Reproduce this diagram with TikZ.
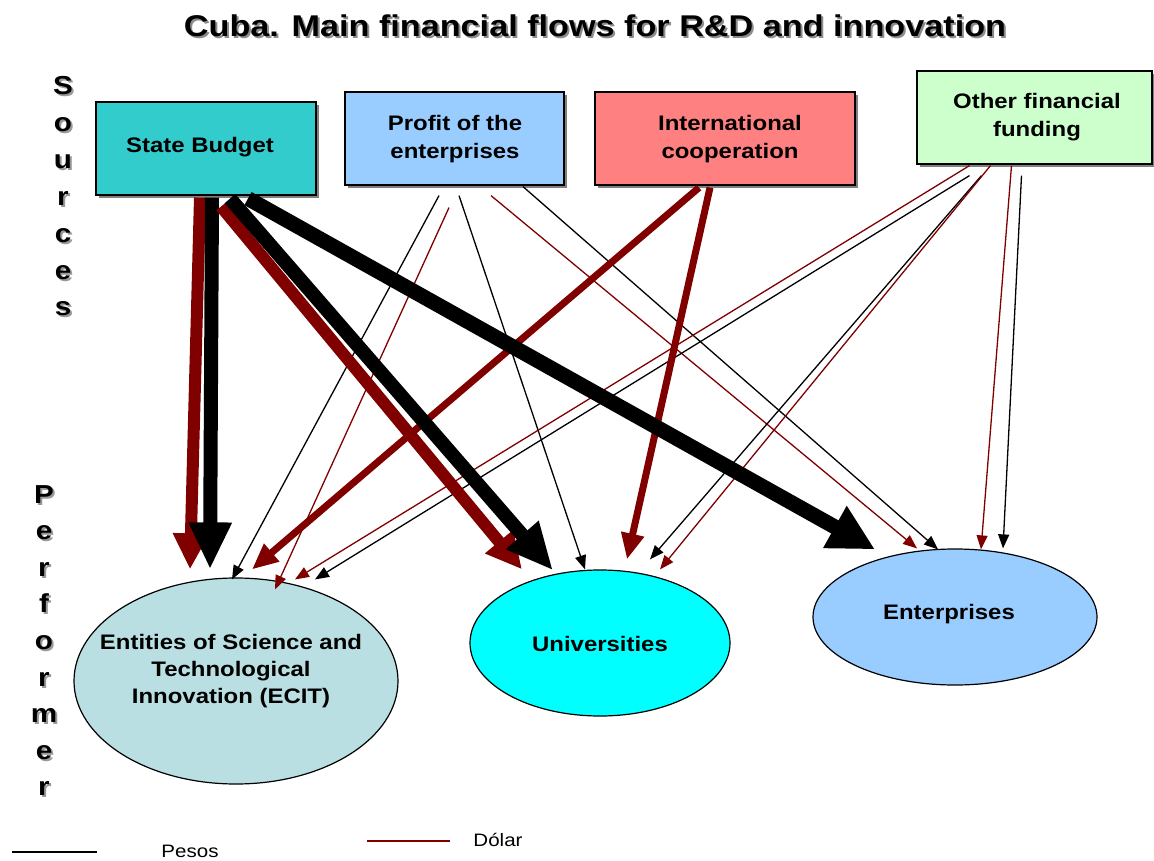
\documentclass[tikz,border=0pt]{standalone}
\usepackage{fontspec}
\setmainfont{Liberation Sans}
\usetikzlibrary{arrows.meta,shapes.geometric,shadows}
\definecolor{dred}{HTML}{800000}
\definecolor{sbcol}{HTML}{33CCCC}
\definecolor{pecol}{HTML}{99CCFF}
\definecolor{iccol}{HTML}{FF8080}
\definecolor{ofcol}{HTML}{CCFFCC}
\definecolor{eccol}{HTML}{B9DFE2}
\definecolor{uncol}{HTML}{00FFFF}
\definecolor{encol}{HTML}{99CCFF}
\newcommand{\hstretch}[1]{\scalebox{1.14}[1]{#1}}
\newcommand{\twolines}[2]{\hstretch{\begin{tabular}{@{}c@{}}#1\\#2\end{tabular}}}
\tikzset{
  srcbox/.style={draw=black, line width=1.2pt, minimum height=93pt, inner sep=0pt,
    drop shadow={shadow xshift=3pt, shadow yshift=-3pt, fill=black!50, opacity=1}},
  perf/.style={ellipse, draw=black, line width=1.2pt, inner sep=0pt},
  boxtext/.style={font=\fontsize{21}{28}\selectfont\bfseries, inner sep=0pt, align=center},
  vlet/.style={font=\fontsize{26}{26}\selectfont\bfseries, anchor=base, inner sep=0pt},
  vshadow/.style={vlet, text=black!40},
  bigblack/.style={line width=14pt, -{Triangle[length=47pt,width=40pt]}},
  bigred/.style={line width=12pt, draw=dred, -{Triangle[length=36pt,width=34pt]}},
  midred/.style={line width=7pt, draw=dred, -{Triangle[length=26pt,width=22pt]}},
  pesos/.style={line width=1.3pt, draw=black, -{Triangle[length=14pt,width=11pt]}},
  dolar/.style={line width=1.3pt, draw=dred, -{Triangle[length=14pt,width=11pt]}},
  legtext/.style={font=\fontsize{18}{18}\selectfont, inner sep=0pt}
}
\begin{document}
\begin{tikzpicture}[x=1pt,y=-1pt]
\useasboundingbox[fill=white] (0,0) rectangle (1154,861);

% title
\node[font=\fontsize{30}{30}\selectfont\bfseries, text=black!45, inner sep=0pt] (titleshadow) at (597,28) {\hstretch{Cuba. Main financial flows for R\&D and innovation}};
\node[font=\fontsize{30}{30}\selectfont\bfseries, inner sep=0pt] (title) at (595,26) {\hstretch{Cuba. Main financial flows for R\&D and innovation}};

% side labels
\foreach \l [count=\i from 0] in {S,o,u,r,c,e,s} {
  \node[vshadow] (sls\i) at (65,{97+36.8*\i}) {\hstretch{\l}};
  \node[vlet] (sl\i) at (63,{95+36.8*\i}) {\hstretch{\l}};
}
\foreach \l [count=\i from 0] in {P,e,r,f,o,r,m,e,r} {
  \node[vshadow] (pls\i) at (46,{505+36.6*\i}) {\hstretch{\l}};
  \node[vlet] (pl\i) at (44,{503+36.6*\i}) {\hstretch{\l}};
}

% source boxes
\node[srcbox, fill=sbcol, minimum width=220pt] (sb) at (206,148.5) {};
\node[boxtext] (sbt) at (200,147) {\hstretch{State Budget}};
\node[srcbox, fill=pecol, minimum width=219pt] (pe) at (454.5,138.5) {};
\node[boxtext] (pet) at (455,139) {\twolines{Profit of the}{enterprises}};
\node[srcbox, fill=iccol, minimum width=260pt] (ic) at (725,138.5) {};
\node[boxtext] (ict) at (730,139) {\twolines{International}{cooperation}};
\node[srcbox, fill=ofcol, minimum width=235pt] (of) at (1034.5,117.5) {};
\node[boxtext] (oft) at (1037,117) {\twolines{Other financial}{funding}};

% performers
\node[perf, fill=eccol, minimum width=324pt, minimum height=206pt] (ecit) at (236,681) {};
\node[boxtext] (ecitt) at (231,671) {\hstretch{\begin{tabular}{@{}c@{}}Entities of Science and\\[-1pt]Technological\\[-1pt]Innovation (ECIT)\end{tabular}}};
\node[perf, fill=uncol, minimum width=260pt, minimum height=146pt] (univ) at (600,643) {};
\node[boxtext] (univt) at (600,644) {\hstretch{Universities}};
\node[perf, fill=encol, minimum width=284pt, minimum height=136pt] (ent) at (955,617) {};
\node[boxtext] (entt) at (949,614) {\hstretch{Enterprises}};

% flows from Profit of the enterprises
\draw[pesos] ([xshift=-15.5pt,yshift=-10pt]pe.south) -- ([xshift=-4pt,yshift=-2pt]ecit.north);
\draw[dolar] ([xshift=-5.5pt,yshift=-22pt]pe.south) -- ([xshift=39pt,yshift=-12pt]ecit.north);
\draw[pesos] ([xshift=4.5pt,yshift=-10pt]pe.south) -- ([xshift=-15pt]univ.north);
\draw[dolar] ([xshift=36.5pt,yshift=-10pt]pe.south) -- ([xshift=-38pt]ent.north);
\draw[pesos] ([xshift=68.5pt,yshift=-1pt]pe.south) -- ([xshift=-17pt,yshift=-1pt]ent.north);

% flows from Other financial funding
\draw[dolar] ([xshift=-65pt,yshift=-1pt]of.south) -- ([xshift=59pt,yshift=-2pt]ecit.north);
\draw[pesos] ([xshift=-65pt,yshift=-11pt]of.south) -- ([xshift=79pt,yshift=-2pt]ecit.north);
\draw[pesos] ([xshift=-53pt,yshift=-11pt]of.south) -- ([xshift=50pt,yshift=10pt]univ.north);
\draw[dolar] ([xshift=-44pt,yshift=-1pt]of.south) -- ([xshift=60pt]univ.north);
\draw[dolar] ([xshift=-23pt,yshift=-1pt]of.south) -- ([xshift=26pt,yshift=-1pt]ent.north);
\draw[pesos] ([xshift=-13pt,yshift=-11pt]of.south) -- ([xshift=48pt]ent.north);

% flows from International cooperation
\draw[midred] ([xshift=-26pt,yshift=-2pt]ic.south) -- ([xshift=16pt,yshift=8pt]ecit.north);
\draw[midred] ([xshift=-15pt,yshift=-2pt]ic.south) -- ([xshift=27pt,yshift=10pt]univ.north);

% flows from State Budget
\draw[bigred] ([xshift=-6pt,yshift=-2pt]sb.south) -- ([xshift=-46pt,yshift=8pt]ecit.north);
\draw[bigblack] ([xshift=6pt,yshift=-2pt]sb.south) -- ([xshift=-26pt,yshift=8pt]ecit.north);
\draw[bigred] ([xshift=15pt,yshift=-11pt]sb.south) -- ([xshift=-78pt]univ.north);
\draw[bigblack] ([xshift=24pt,yshift=-3pt]sb.south) -- ([xshift=-47pt,yshift=-1pt]univ.north);
\draw[bigblack, line width=15pt, -{Triangle[length=46pt,width=45pt]}] ([xshift=42pt,yshift=-3pt]sb.south) -- ([xshift=-80pt,yshift=-1pt]ent.north);

% legend
\coordinate (lp1) at (12,852);
\coordinate (lp2) at (97,852);
\draw[line width=2pt] (lp1) -- (lp2);
\node[legtext] (lpt) at (190,851) {\hstretch{Pesos}};
\coordinate (ld1) at (367,841);
\coordinate (ld2) at (450,841);
\draw[line width=2pt, dred] (ld1) -- (ld2);
\node[legtext] (ldt) at (498,840) {\hstretch{Dólar}};
\end{tikzpicture}
\end{document}
